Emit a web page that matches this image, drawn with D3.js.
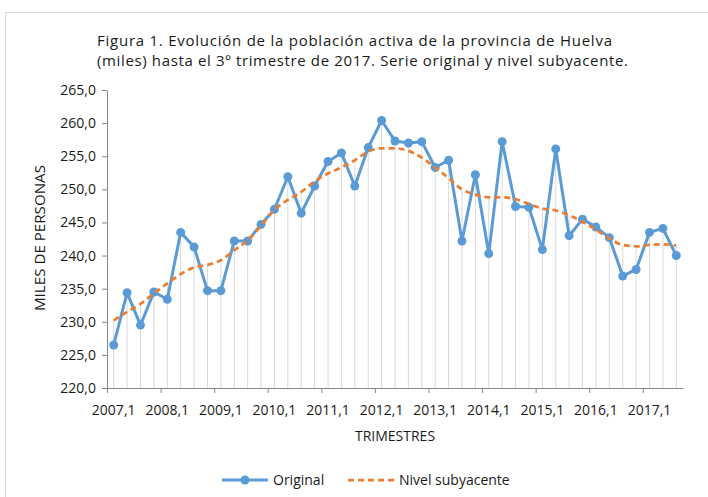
<!DOCTYPE html>
<html>
<head>
<meta charset="utf-8">
<script src="https://cdn.jsdelivr.net/npm/d3@7"></script>
<style>
  html, body { margin: 0; padding: 0; background: #fff; }
  svg { display: block; }
  text { font-family: "Open Sans", "Noto Sans", sans-serif; fill: #1a1a1a; }
</style>
</head>
<body>
<svg id="chart" width="708" height="497"></svg>
<script>
// ---- Data ----
const years = ["2007","2008","2009","2010","2011","2012","2013","2014","2015","2016","2017"];
const quarters = [];
years.forEach(y => { for (let q = 1; q <= 4; q++) quarters.push(y + "," + q); });
const categories = quarters.slice(0, 43); // 2007,1 ... 2017,3

const original = [
  226.5, 234.4, 229.5, 234.5,
  233.4, 243.5, 241.3, 234.7,
  234.7, 242.2, 242.2, 244.7,
  247.0, 251.9, 246.4, 250.5,
  254.2, 255.5, 250.5, 256.3,
  260.4, 257.3, 257.0, 257.2,
  253.3, 254.4, 242.2, 252.2,
  240.3, 257.2, 247.4, 247.3,
  240.9, 256.1, 243.0, 245.5,
  244.3, 242.7, 236.9, 237.9,
  243.5, 244.1, 240.0
];
const nivel = [
  230.2, 231.5, 232.7, 234.3,
  235.8, 237.2, 238.2, 238.6,
  239.3, 240.8, 242.3, 244.5,
  246.9, 248.4, 249.6, 251.2,
  252.4, 253.3, 254.4, 255.7,
  256.2, 256.2, 255.8, 254.8,
  253.3, 251.7, 250.0, 249.2,
  248.8, 248.8, 248.5, 247.8,
  247.1, 246.8, 246.1, 245.1,
  243.9, 242.6, 241.6, 241.4,
  241.6, 241.7, 241.5
];
const yTicks = [220, 225, 230, 235, 240, 245, 250, 255, 260, 265];
const xLabelIdx = [0, 4, 8, 12, 16, 20, 24, 28, 32, 36, 40];
const titleLines = [
  "Figura 1. Evolución de la población activa de la provincia de Huelva",
  "(miles) hasta el 3º trimestre de 2017. Serie original y nivel subyacente."
];
const seriesNames = ["Original", "Nivel subyacente"];

// ---- Layout ----
const svg = d3.select("#chart");
const plot = { left: 107, right: 683, top: 90, bottom: 388 };
const blue = "#5B9BD5", orange = "#ED7D31";

// chart area border
svg.append("rect").attr("x", 5.5).attr("y", 12.5).attr("width", 720).attr("height", 500)
  .attr("fill", "none").attr("stroke", "#d9d9d9").attr("stroke-width", 1);

const x = d3.scaleBand().domain(d3.range(categories.length)).range([plot.left, plot.right]).paddingInner(0).paddingOuter(0);
const xBound = d3.scaleLinear().domain([0, categories.length]).range([plot.left, plot.right]);
const y = d3.scaleLinear().domain([220, 265]).range([plot.bottom, plot.top]);
const cx = i => x(i) + x.bandwidth() / 2;

// drop lines
svg.append("g").selectAll("line").data(categories).join("line")
  .attr("x1", (d, i) => cx(i)).attr("x2", (d, i) => cx(i))
  .attr("y1", plot.bottom).attr("y2", (d, i) => y(Math.max(original[i], nivel[i])))
  .attr("stroke", "#d9d9d9").attr("stroke-width", 1);

// axes
const yAxis = svg.append("g").attr("transform", `translate(${plot.left},0)`)
  .call(d3.axisLeft(y).tickValues(yTicks).tickSize(5).tickSizeOuter(0)
    .tickFormat(d => d.toFixed(1).replace(".", ",")));
yAxis.select(".domain").attr("stroke", "#868686");
yAxis.selectAll(".tick line").attr("stroke", "#868686");
yAxis.selectAll(".tick text").attr("x", -11).style("font-size", "14px").style("font-family", "'Open Sans'").attr("fill", "#1a1a1a");

const xAxis = svg.append("g").attr("transform", `translate(0,${plot.bottom})`)
  .call(d3.axisBottom(xBound).tickValues(xLabelIdx).tickSize(5).tickSizeOuter(0).tickFormat(""));
xAxis.select(".domain").attr("stroke", "#868686");
xAxis.selectAll(".tick line").attr("stroke", "#868686");

svg.append("g").selectAll("text").data(xLabelIdx).join("text")
  .attr("x", i => cx(i)).attr("y", 415).attr("text-anchor", "middle")
  .style("font-size", "14px").text(i => categories[i]);

// axis titles
svg.append("text").attr("transform", "translate(45,238) rotate(-90)").attr("text-anchor", "middle")
  .style("font-size", "14px").attr("textLength", 146).attr("lengthAdjust", "spacingAndGlyphs").text("MILES DE PERSONAS");
svg.append("text").attr("x", 395).attr("y", 441).attr("text-anchor", "middle")
  .style("font-size", "14px").text("TRIMESTRES");

// title
const titleSpans = [[97, 515], [97, 531]];
svg.append("g").selectAll("text").data(titleLines).join("text")
  .attr("x", (d, i) => titleSpans[i][0]).attr("y", (d, i) => 46 + i * 20)
  .attr("textLength", (d, i) => titleSpans[i][1]).attr("lengthAdjust", "spacing")
  .style("font-size", "15px").text(d => d);

// series
const line = d3.line().x((d, i) => cx(i)).y(d => y(d));
svg.append("path").datum(original).attr("d", line).attr("fill", "none")
  .attr("stroke", blue).attr("stroke-width", 3).attr("stroke-linejoin", "round");
svg.append("g").selectAll("circle").data(original).join("circle")
  .attr("cx", (d, i) => cx(i)).attr("cy", d => y(d)).attr("r", 4.5).attr("fill", blue);

const curve = d3.line().x((d, i) => cx(i)).y(d => y(d)).curve(d3.curveMonotoneX);
svg.append("path").datum(nivel).attr("d", curve).attr("fill", "none")
  .attr("stroke", orange).attr("stroke-width", 2.75).attr("stroke-dasharray", "6,4");

// legend
const lg = svg.append("g");
lg.append("line").attr("x1", 222).attr("x2", 268).attr("y1", 480).attr("y2", 480).attr("stroke", blue).attr("stroke-width", 3);
lg.append("circle").attr("cx", 245).attr("cy", 480).attr("r", 4.5).attr("fill", blue);
lg.append("text").attr("x", 273).attr("y", 485).style("font-size", "14px").text(seriesNames[0]);
lg.append("line").attr("x1", 348).attr("x2", 394).attr("y1", 480).attr("y2", 480).attr("stroke", orange)
  .attr("stroke-width", 2.75).attr("stroke-dasharray", "6,4");
lg.append("text").attr("x", 399).attr("y", 485).style("font-size", "14px").text(seriesNames[1]);
</script>
</body>
</html>
